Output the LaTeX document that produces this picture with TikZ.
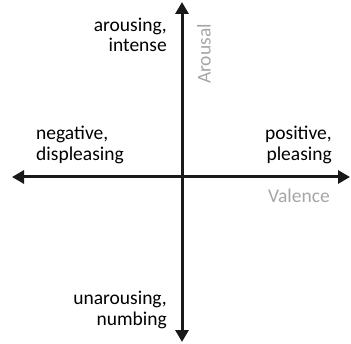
\documentclass[tikz,border=0pt]{standalone}
\usepackage{fontspec}
\setmainfont{Carlito}
\definecolor{axisgray}{HTML}{A6A6A6}
\usetikzlibrary{arrows.meta,positioning}
\tikzset{
  axis/.style={{Triangle[length=12pt,width=13pt]}-{Triangle[length=12pt,width=13pt]},line width=3pt,black!90},
  pole/.style={align=right,inner sep=0pt,font=\fontsize{19.5}{20.5}\selectfont},
  axlbl/.style={inner sep=0pt,text=axisgray,font=\fontsize{19.5}{20.5}\selectfont}
}
\begin{document}
\begin{tikzpicture}[x=1pt,y=1pt]
      \useasboundingbox (0,0) rectangle (351,343);
      \coordinate (o) at (182,166);
      \coordinate (top) at (182,341);
      \coordinate (bot) at (182,1);
      \coordinate (lft) at (12,166);
      \coordinate (rgt) at (350,166);
      \draw[axis] (lft) -- (rgt);
      \draw[axis] (bot) -- (top);
      \node[pole,anchor=east] (hi) at (167,308) {arousing,\\intense};
      \node[pole,anchor=east] (lo) at (167,33) {unarousing,\\numbing};
      \node[pole,anchor=west,align=left] (neg) at (36,198) {negative,\\displeasing};
      \node[pole,anchor=east] (pos) at (332,198) {positive,\\pleasing};
      \node[axlbl,rotate=90] (ar) at (204,289) {Arousal};
      \node[axlbl,anchor=east] (va) at (330,147) {Valence};
    \end{tikzpicture}
\end{document}
